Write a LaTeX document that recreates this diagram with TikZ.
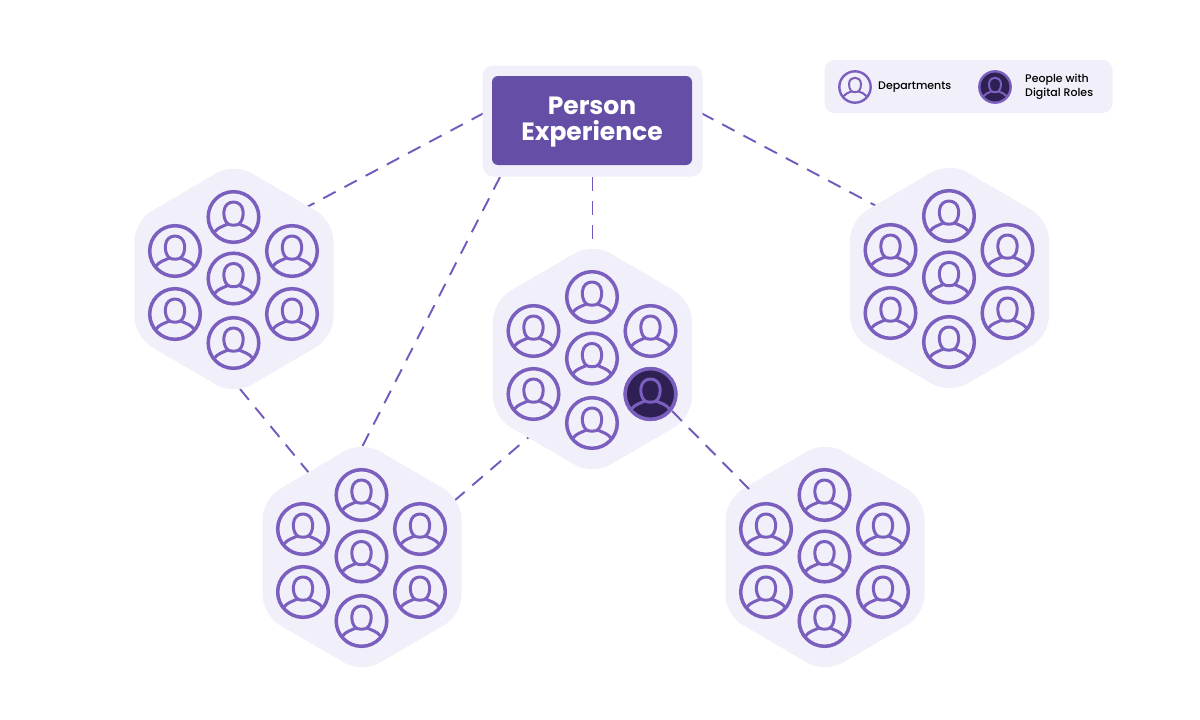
\documentclass[tikz,border=0pt]{standalone}
\usepackage{fontspec}
\setmainfont{Poppins}
\newfontfamily\legendfont{Poppins Medium}
\definecolor{pale}{HTML}{F1EFF9}
\definecolor{ring}{HTML}{7A5FBE}
\definecolor{boxfill}{HTML}{644EA6}
\definecolor{darkp}{HTML}{2E2052}
\definecolor{dash}{HTML}{7359BB}
\newlength{\ringw}\newlength{\iconw}
\setlength{\ringw}{3.5pt}\setlength{\iconw}{3pt}
\tikzset{
  hexshape/.style={fill=pale,draw=none,rounded corners=20pt},
  link/.style={draw=dash,line width=1.9pt,dash pattern=on 14pt off 10pt},
  persona/.pic={
    \tikzset{x=1pt,y=-1pt}
    \coordinate (-c) at (0,0);
    \draw[draw=ring,line width=\ringw,fill=#1] (0,0) circle[radius=25.3pt];
    \path[fill=#1,draw=ring,line width=\iconw,line join=round]
      (-6.5,6) .. controls (-9,3) and (-10,-1) .. (-9.5,-6)
      .. controls (-9,-12) and (-4.5,-15) .. (0,-15)
      .. controls (4.5,-15) and (9,-12) .. (9.5,-6)
      .. controls (10,-1) and (9,3) .. (6.5,6)
      .. controls (5,9) and (-5,9) .. (-6.5,6) -- cycle;
    \draw[draw=ring,line width=\iconw,line cap=round]
      (-19,15) .. controls (-15.5,10.5) and (-11,9.5) .. (-6,7.2)
      (19,15) .. controls (15.5,10.5) and (11,9.5) .. (6,7.2);
  },
  cluster/.pic={
    \path[hexshape] (0,-116) -- (99.5,-58) -- (99.5,58) -- (0,116) -- (-99.5,58) -- (-99.5,-58) -- cycle;
    \pic (-t) at (-0.5,-62) {persona=pale};
    \pic (-m) at (-0.5,-0.5) {persona=pale};
    \pic (-b) at (-0.5,64) {persona=pale};
    \pic (-ul) at (-59,-28) {persona=pale};
    \pic (-ll) at (-59,35) {persona=pale};
    \pic (-ur) at (58,-28) {persona=pale};
    \pic (-lr) at (58,35) {persona=pale};
  }
}
\begin{document}
\begin{tikzpicture}[x=1pt,y=-1pt]
\useasboundingbox (0,0) rectangle (1200,720);
\fill[white] (0,0) rectangle (1200,720);

\coordinate (e1a) at (484,113);
\coordinate (e1b) at (305,208);
\coordinate (e2a) at (701,113);
\coordinate (e2b) at (880,208);
\coordinate (e3a) at (500,177);
\coordinate (e3b) at (361,449);
\coordinate (e4a) at (592.5,177);
\coordinate (e4b) at (592.5,249);
\coordinate (e5a) at (240,389);
\coordinate (e5b) at (309,473);
\coordinate (e6a) at (530,436);
\coordinate (e6b) at (454,501);
\coordinate (e7a) at (672,411);
\coordinate (e7b) at (749,489);

\draw[link] (e1a) -- (e1b);
\draw[link] (e2a) -- (e2b);
\draw[link] (e3a) -- (e3b);
\draw[link] (e4a) -- (e4b);
\draw[link] (e5a) -- (e5b);
\draw[link] (e6b) -- (e6a);

\pic (h1) at (234,279) {cluster};
\pic (h2) at (949.5,278) {cluster};
\pic (h3) at (362,557) {cluster};
\pic (h4) at (825,557) {cluster};
\pic (h5) at (592.5,359) {cluster};
\pic (dark) at (650.5,394) {persona=darkp};
\draw[link] (e7a) -- (e7b);

\node[fill=pale,rounded corners=11pt,minimum width=220pt,minimum height=111pt,inner sep=0pt] (outer) at (592.5,121) {};
\node[fill=boxfill,rounded corners=6pt,minimum width=200pt,minimum height=89pt,inner sep=0pt] (main) at (592,120.5) {};
\node[inner sep=0pt,text=white,font=\fontsize{25}{26.5}\selectfont\bfseries,align=center] (mainlabel) at (592,122) {Person\\Experience};

\node[fill=pale,rounded corners=10pt,minimum width=288pt,minimum height=53pt,inner sep=0pt] (legend) at (968.5,86.5) {};
\begin{scope}[shift={(855,87)},scale=0.62,transform shape]
\setlength{\ringw}{2.4pt}\setlength{\iconw}{2pt}
\pic (lg1) at (0,0) {persona=pale};
\pic (lg2) at (225.8,0) {persona=darkp};
\end{scope}
\node[anchor=west,inner sep=0pt,font=\fontsize{11}{14.5}\selectfont\legendfont,text=black] (ldep) at (878,87.5) {Departments};
\node[anchor=west,inner sep=0pt,font=\fontsize{11}{14.5}\selectfont\legendfont,text=black,align=left] (lrole) at (1025,87) {People with\\Digital Roles};
\end{tikzpicture}
\end{document}
